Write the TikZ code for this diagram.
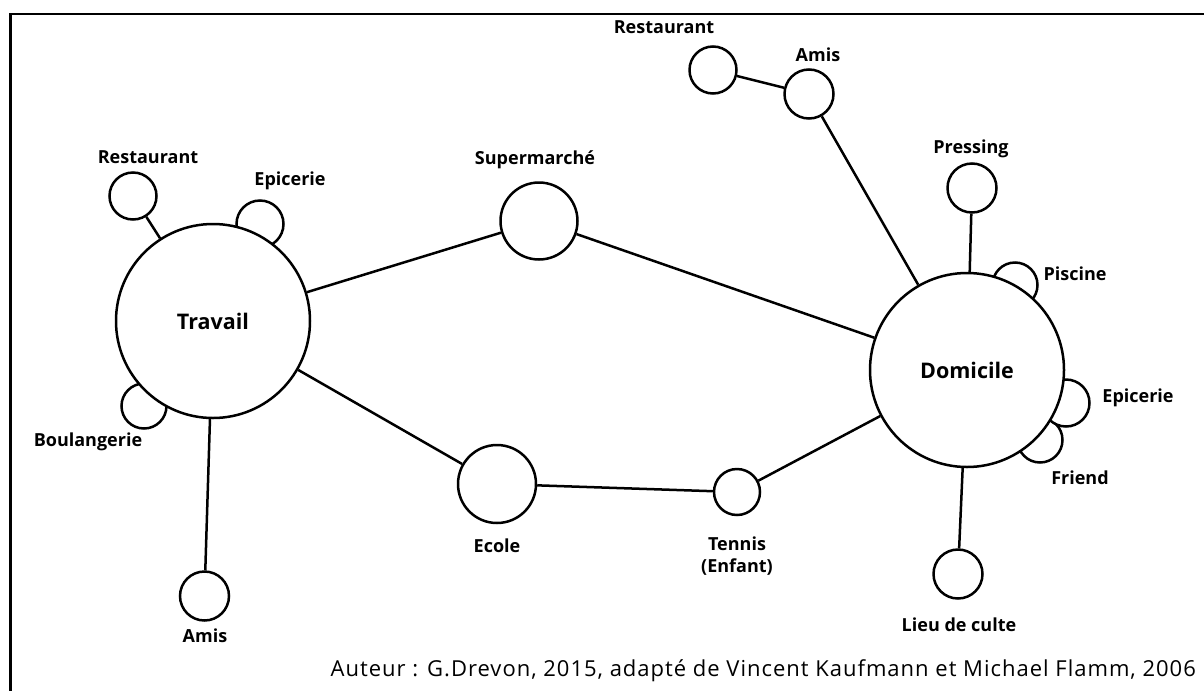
\documentclass[tikz,border=0pt]{standalone}
\usepackage{fontspec}
\setmainfont{Open Sans}
\begin{document}
\begin{tikzpicture}[x=10pt,y=10pt,
  every node/.append style={inner sep=0pt},
  lieu/.style={circle,draw,line width=2.5pt,fill=white},
  bigc/.style={lieu,minimum size=194pt,font=\bfseries\fontsize{21.5}{25}\selectfont},
  midc/.style={lieu,minimum size=77pt},
  smallc/.style={lieu,minimum size=47pt},
  lbl/.style={font=\bfseries\fontsize{18}{22}\selectfont,align=center},
  lien/.style={line width=2.5pt}]
\useasboundingbox (0,0) rectangle (120.4,-69.1);
% cadre
\draw [line width=2.8pt] (120.4,-1.4) -- (1.03,-1.4) -- (1.03,-69.1);
% petits lieux caches derriere les grands cercles
\node [smallc] (travEpic) at (26.0,-22.4) {};
\node [smallc,minimum size=45pt] (travBoul) at (14.4,-40.6) {};
\node [smallc,minimum size=45pt] (domPisc) at (101.5,-28.5) {};
\node [smallc,minimum size=45pt] (domFriend) at (104.0,-44.0) {};
\node [smallc] (domEpic) at (106.6,-40.3) {};
% grands cercles
\node [bigc] (trav) at (21.3,-32.1) {Travail};
\node [bigc] (dom) at (96.7,-37.0) {Domicile};
\node [midc] (super) at (53.9,-22.1) {};
\node [midc,minimum size=78pt] (ecole) at (49.7,-48.4) {};
\node [smallc,minimum size=46pt] (tennis) at (73.7,-49.2) {};
% autres lieux
\node [smallc] (travResto) at (13.3,-19.6) {};
\node [smallc,minimum size=49pt] (travAmis) at (20.45,-59.6) {};
\node [smallc] (domResto) at (71.3,-7.0) {};
\node [smallc,minimum size=49pt] (domAmis) at (80.9,-9.4) {};
\node [smallc,minimum size=49pt] (domPress) at (97.2,-18.8) {};
\node [smallc,minimum size=49pt] (domCulte) at (95.8,-57.4) {};
% liens
\draw [lien] (trav) -- (super);
\draw [lien] (super) -- (dom);
\draw [lien] (trav) -- (ecole);
\draw [lien] (ecole) -- (tennis);
\draw [lien] (tennis) -- (dom);
\draw [lien] (travResto) -- (trav);
\draw [lien] (travAmis) -- (trav);
\draw [lien] (domResto) -- (domAmis);
\draw [lien] (domAmis) -- (dom);
\draw [lien] (domPress) -- (dom);
\draw [lien] (domCulte) -- (dom);
% etiquettes
\node [lbl] (travRestoL) at (14.8,-15.7) {Restaurant};
\node [lbl] (travEpicL) at (29.0,-18.1) {Epicerie};
\node [lbl] (travBoulL) at (8.8,-44.2) {Boulangerie};
\node [lbl] (travAmisL) at (20.5,-63.6) {Amis};
\node [lbl] (superL) at (53.5,-16.0) {Supermarché};
\node [lbl] (ecoleL) at (49.7,-54.6) {Ecole};
\node [lbl] (tennisL) at (73.7,-55.6) {Tennis\\(Enfant)};
\node [lbl] (domRestoL) at (66.4,-2.7) {Restaurant};
\node [lbl] (domAmisL) at (81.8,-5.5) {Amis};
\node [lbl] (domPressL) at (97.1,-14.9) {Pressing};
\node [lbl] (domPiscL) at (107.5,-27.4) {Piscine};
\node [lbl] (domEpicL) at (113.8,-39.8) {Epicerie};
\node [lbl] (domFriendL) at (108.0,-47.8) {Friend};
\node [lbl] (domCulteL) at (95.9,-62.5) {Lieu de culte};
\node [anchor=east,font=\fontsize{22}{26}\selectfont\addfontfeature{LetterSpace=4.5}] (auteur) at (119.6,-67.1)
  {Auteur : G.Drevon, 2015, adapté de Vincent Kaufmann et Michael Flamm, 2006};
\end{tikzpicture}
\end{document}
